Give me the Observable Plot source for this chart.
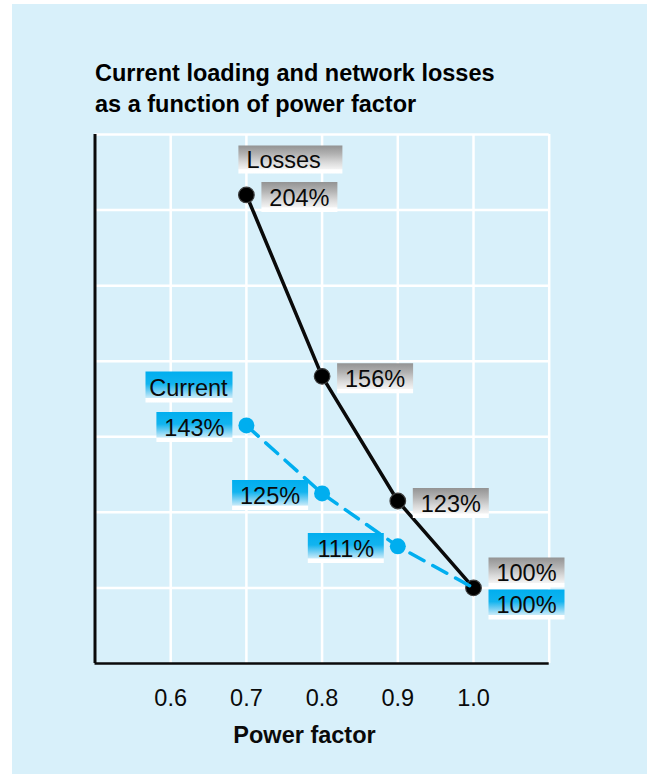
<!DOCTYPE html>
<html>
<head>
<meta charset="utf-8">
<script src="https://cdn.jsdelivr.net/npm/d3@7"></script>
<script src="https://cdn.jsdelivr.net/npm/@observablehq/plot@0.6"></script>
<style>
  html, body { margin: 0; padding: 0; background: #fff; }
  #page { position: relative; width: 647px; height: 774px; background: #fff; overflow: hidden; }
  #panel { position: absolute; left: 12px; top: 4px; right: 0; bottom: 0; background: #d8f0fa; }
  #title { position: absolute; left: 95px; top: 57.8px; font-family: "Liberation Sans", Arial, Helvetica, sans-serif;
           font-weight: bold; font-size: 23.5px; line-height: 31.5px; color: #000; white-space: nowrap; }
  #chart { position: absolute; left: 0; top: 125px; }
</style>
</head>
<body>
<div id="page">
  <div id="panel"></div>
  <div id="title"></div>
  <div id="chart"></div>
</div>
<script>
// ---- data ----
const powerFactor = [0.7, 0.8, 0.9, 1.0];
const lossValues = [204, 156, 123, 100];
const currentValues = [143, 125, 111, 100];
const seriesNames = ["Losses", "Current"];
const xTickValues = [0.6, 0.7, 0.8, 0.9, 1.0];
const xGridValues = [0.6, 0.7, 0.8, 0.9, 1.0, 1.1];
const yGridValues = [100, 120, 140, 160, 180, 200, 220];
const titleLines = ["Current loading and network losses", "as a function of power factor"];
const xAxisLabel = "Power factor";

// ---- derived tables ----
const losses = powerFactor.map((x, i) => ({x, y: lossValues[i], label: lossValues[i] + "%"}));
const current = powerFactor.map((x, i) => ({x, y: currentValues[i], label: currentValues[i] + "%"}));

document.getElementById("title").innerHTML = titleLines.join("<br>");

// rectangular "symbol" used for the gradient label boxes
function boxSymbol(w, h) {
  return {
    draw(ctx) {
      ctx.moveTo(-w / 2, -h / 2);
      ctx.lineTo(w / 2, -h / 2);
      ctx.lineTo(w / 2, h / 2);
      ctx.lineTo(-w / 2, h / 2);
      ctx.closePath();
    }
  };
}
const valueBox = boxSymbol(76, 30);
const lossesBox = boxSymbol(104, 28);
const currentBox = boxSymbol(87, 31);

const BLUE = "#00aeef";
const INK = "#0a0a0a";

const notLast = d => d.x < 1;
const isLast = d => d.x >= 1;

const plot = Plot.plot({
  width: 647,
  height: 649,
  marginTop: 9,
  marginBottom: 111,
  marginLeft: 94.5,
  marginRight: 98.3,
  style: {
    fontFamily: '"Liberation Sans", Arial, Helvetica, sans-serif',
    fontSize: "23.5px",
    background: "transparent",
    color: INK,
    overflow: "visible"
  },
  x: {domain: [0.5, 1.1], ticks: xTickValues, tickFormat: d3.format(".1f"), tickSize: 0, tickPadding: 25.5, label: null},
  y: {domain: [80, 220], axis: null},
  marks: [
    Plot.ruleY(yGridValues, {stroke: "white", strokeWidth: 2.5}),
    Plot.ruleX(xGridValues, {stroke: "white", strokeWidth: 2.5}),
    Plot.ruleX([0.5], {stroke: INK, strokeWidth: 3}),
    Plot.ruleY([80], {stroke: INK, strokeWidth: 2.5}),

    Plot.line(losses, {x: "x", y: "y", stroke: INK, strokeWidth: 3.5}),
    Plot.dot(current, {x: "x", y: "y", r: 8, fill: BLUE, stroke: "none", filter: notLast}),
    Plot.dot(losses, {x: "x", y: "y", r: 7.8, fill: "#000", stroke: "#3c3c3c", strokeWidth: 1.2}),
    Plot.line(current, {x: "x", y: "y", stroke: BLUE, strokeWidth: 3.5, strokeDasharray: "16,10"}),

    // losses value labels
    Plot.dot(losses, {x: "x", y: "y", symbol: valueBox, fill: "url(#gradGray)", stroke: "none", dx: 53, dy: 2, filter: notLast}),
    Plot.text(losses, {x: "x", y: "y", text: "label", dx: 53, dy: 3.4, fill: INK, filter: notLast}),
    Plot.dot(losses, {x: "x", y: "y", symbol: valueBox, fill: "url(#gradGray)", stroke: "none", dx: 53, dy: -15.4, filter: isLast}),
    Plot.text(losses, {x: "x", y: "y", text: "label", dx: 53, dy: -14, fill: INK, filter: isLast}),

    // current value labels
    Plot.dot(current, {x: "x", y: "y", symbol: valueBox, fill: "url(#gradBlue)", stroke: "none", dx: -52, dy: 1.6, filter: notLast}),
    Plot.text(current, {x: "x", y: "y", text: "label", dx: -52, dy: 3, fill: INK, filter: notLast}),
    Plot.dot(current, {x: "x", y: "y", symbol: valueBox, fill: "url(#gradBlue)", stroke: "none", dx: 53, dy: 16.6, filter: isLast}),
    Plot.text(current, {x: "x", y: "y", text: "label", dx: 53, dy: 18, fill: INK, filter: isLast}),

    // series name labels
    Plot.dot([losses[0]], {x: "x", y: "y", symbol: lossesBox, fill: "url(#gradGray)", stroke: "none", dx: 44, dy: -35.4}),
    Plot.text([losses[0]], {x: "x", y: "y", text: () => seriesNames[0], textAnchor: "start", dx: 0, dy: -34, fill: INK}),
    Plot.dot([current[0]], {x: "x", y: "y", symbol: currentBox, fill: "url(#gradBlue)", stroke: "none", dx: -57.4, dy: -38.4}),
    Plot.text([current[0]], {x: "x", y: "y", text: () => seriesNames[1], dx: -58, dy: -37, fill: INK}),

    // axis title
    Plot.text([xAxisLabel], {frameAnchor: "bottom", text: d => d, dx: -17.6, dy: 79.5, fontWeight: "bold", fill: INK})
  ]
});

const svg = d3.select(plot);
const defs = svg.insert("defs", ":first-child");
function addGradient(id, stops) {
  const g = defs.append("linearGradient").attr("id", id)
    .attr("x1", 0).attr("y1", 0).attr("x2", 0).attr("y2", 1);
  stops.forEach(([o, c]) => g.append("stop").attr("offset", o).attr("stop-color", c));
}
addGradient("gradGray", [[0, "#939393"], [0.3, "#b2b2b2"], [0.6, "#d9d9d9"], [0.84, "#f3f3f3"], [0.86, "#ffffff"], [1, "#ffffff"]]);
addGradient("gradBlue", [[0, "#00aeef"], [0.4, "#12b4ef"], [0.62, "#6ecdf3"], [0.84, "#c6eaf9"], [0.86, "#ffffff"], [1, "#ffffff"]]);

document.getElementById("chart").appendChild(plot);
</script>
</body>
</html>
